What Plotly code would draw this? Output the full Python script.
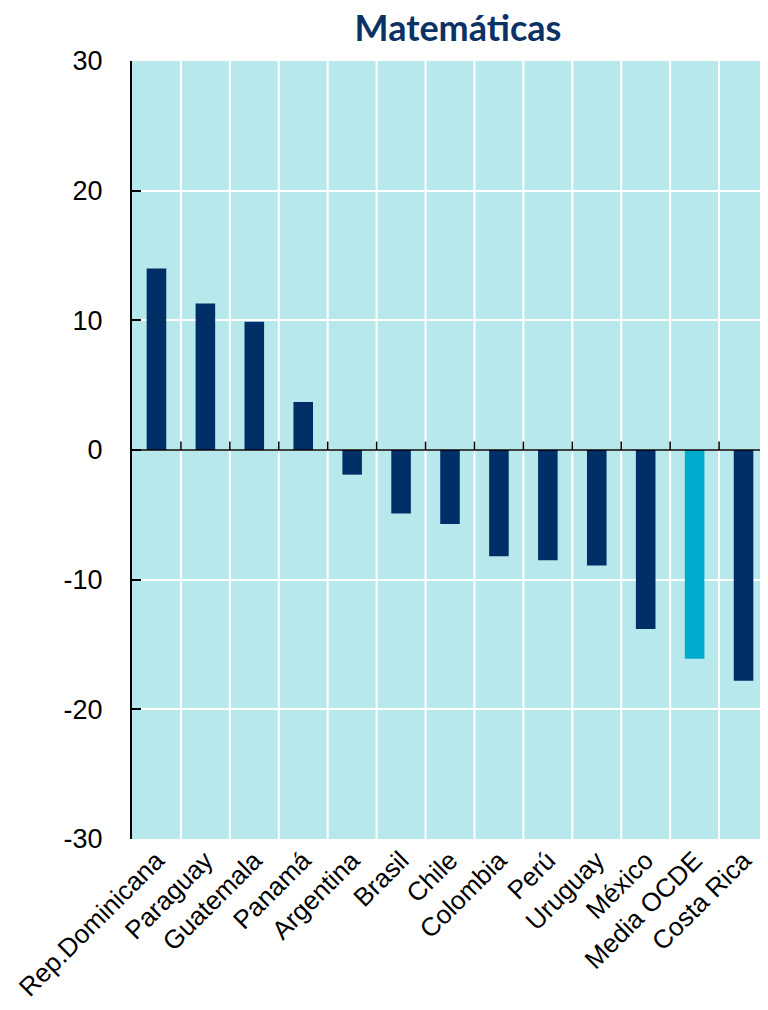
import plotly.graph_objects as go

categories = ["Rep.Dominicana", "Paraguay", "Guatemala", "Panamá", "Argentina", "Brasil",
              "Chile", "Colombia", "Perú", "Uruguay", "México", "Media OCDE", "Costa Rica"]
values = [14.0, 11.3, 9.9, 3.7, -1.9, -4.9, -5.7, -8.2, -8.5, -8.9, -13.8, -16.1, -17.8]
y_ticks = [-30, -20, -10, 0, 10, 20, 30]
y_tick_labels = ["-30", "-20", "-10", "0", "10", "20", "30"]
title_text = "Matemáticas"

navy = "#002f67"
oecd = "#00acce"
bg = "#b7e8ec"
colors = [oecd if c == "Media OCDE" else navy for c in categories]

font_family = "Liberation Sans, Arial, sans-serif"

fig = go.Figure()
fig.add_trace(go.Bar(x=categories, y=values, marker=dict(color=colors, line=dict(width=0)),
                     width=0.4, showlegend=False))

shapes = []
n = len(categories)
for i in range(n - 1):
    xb = i + 0.5
    shapes.append(dict(type="line", xref="x", yref="y", x0=xb, x1=xb, y0=-30, y1=30,
                       line=dict(color="white", width=2), layer="below"))
    shapes.append(dict(type="line", xref="x", yref="y", x0=xb, x1=xb, y0=0, y1=0.65,
                       line=dict(color="black", width=1.5), layer="above"))
shapes.append(dict(type="line", xref="paper", yref="y", x0=0, x1=1, y0=0, y1=0,
                   line=dict(color="black", width=1.5), layer="above"))

W, H = 760, 1002
fig.update_layout(
    width=W, height=H,
    margin=dict(l=124, r=0, t=53, b=171),
    paper_bgcolor="white", plot_bgcolor=bg,
    font=dict(family=font_family, size=27, color="black"),
    bargap=0.6,
    shapes=shapes,
    title=dict(text="<b>" + title_text + "</b>", x=450 / W, xanchor="center",
               y=1 - 20 / H, yanchor="middle",
               font=dict(family="Lato, Open Sans, sans-serif", size=36, color="#0b3265")),
    xaxis=dict(type="category", tickangle=-45, showgrid=False, ticks="", showline=False,
               tickfont=dict(family=font_family, size=26), range=[-0.5, n - 0.5],
               zeroline=False, automargin=False),
    yaxis=dict(range=[-30, 30], tickvals=y_ticks, ticktext=y_tick_labels,
               ticks="inside", ticklen=9, tickwidth=2,
               tickcolor="black", showline=True, linecolor="black", linewidth=2,
               showgrid=True, gridcolor="white", gridwidth=2, zeroline=False,
               ticklabelstandoff=22, automargin=False,
               tickfont=dict(family=font_family, size=27)),
)

fig.write_html("out.html")
